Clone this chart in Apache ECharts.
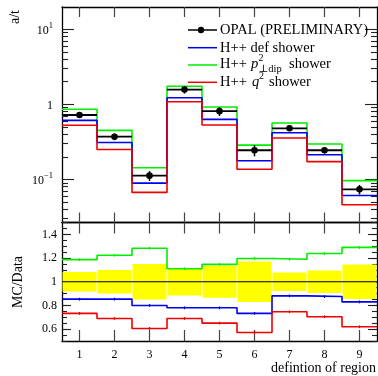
<!DOCTYPE html>
<html>
<head>
<meta charset="utf-8">
<script src="https://cdn.jsdelivr.net/npm/echarts@6/dist/echarts.min.js"></script>
<style>
  html, body { margin: 0; padding: 0; background: #fff; }
  #chart { width: 378px; height: 376px; }
</style>
</head>
<body>
<div id="chart"></div>
<script>
// Region definitions (bin centres) and measured rates a/t
const bins = [1, 2, 3, 4, 5, 6, 7, 8, 9];
const opalData = [0.72, 0.37, 0.112, 1.57, 0.81, 0.244, 0.479, 0.244, 0.0736];
// relative uncertainty of the data (drawn as the yellow band in the ratio)
const relErr = [0.083, 0.10, 0.15, 0.115, 0.136, 0.17, 0.078, 0.094, 0.145];

// Herwig++ predictions
const mcDef = [0.61, 0.31, 0.089, 1.22, 0.63, 0.177, 0.418, 0.213, 0.061];
const mcPt  = [0.86, 0.45, 0.143, 1.74, 0.92, 0.286, 0.563, 0.296, 0.096];
const mcQ2  = [0.525, 0.25, 0.067, 1.08, 0.53, 0.136, 0.356, 0.172, 0.0458];

// MC / Data ratios
const ratioDef = [0.853, 0.853, 0.80, 0.78, 0.78, 0.733, 0.881, 0.875, 0.83];
const ratioPt  = [1.187, 1.224, 1.283, 1.11, 1.147, 1.196, 1.19, 1.238, 1.29];
const ratioQ2  = [0.733, 0.69, 0.606, 0.69, 0.651, 0.572, 0.747, 0.705, 0.62];

// tick values
const xTicks = [1, 2, 3, 4, 5, 6, 7, 8, 9];
const logMajor = [0.1, 1, 10];
const ratioMajor = [0.6, 0.8, 1.0, 1.2, 1.4];

const logMinor = [];
for (let k = -2; k <= 1; k++) {
  for (let m = 2; m <= 9; m++) {
    const v = m * Math.pow(10, k);
    if (v > 0.0266 && v < 19.8) logMinor.push(+v.toPrecision(3));
  }
}

const GREEN = '#00ee00', BLUE = '#0000ee', RED = '#ee0000';
const FONT = '"Liberation Serif", "DejaVu Serif", serif';
const LEG = '14.5px ' + FONT;

// histogram outline: points on bin edges, stepped at the end
function steps(vals) {
  const pts = vals.map((v, i) => [bins[i] - 0.5, v]);
  pts.push([bins[bins.length - 1] + 0.5, vals[vals.length - 1]]);
  return pts;
}

function stepSeries(vals, color, xi, yi) {
  return {
    type: 'line', step: 'end', data: steps(vals), xAxisIndex: xi, yAxisIndex: yi,
    symbol: 'none', lineStyle: { color: color, width: 1.6 }, silent: true, z: 3
  };
}

function xAxisBase(grid, pos, len, labels) {
  return {
    type: 'value', gridIndex: grid, position: pos, min: 0.5, max: 9.5,
    axisLine: { show: true, onZero: false, lineStyle: { color: '#000', width: 1.3 } },
    axisTick: { show: true, inside: true, length: len, customValues: xTicks,
                lineStyle: { color: '#444', width: 1.2 } },
    axisLabel: labels ? { show: true, customValues: xTicks, margin: 8,
                          fontFamily: FONT, fontSize: 12, color: '#000' } : { show: false },
    splitLine: { show: false }
  };
}

function logAxis(pos, major) {
  return {
    type: 'log', logBase: 10, gridIndex: 0, position: pos, min: 0.0266, max: 19.8,
    axisLine: { show: major, onZero: false, lineStyle: { color: '#000', width: 1.3 } },
    axisTick: { show: true, inside: true, length: major ? 12 : 6,
                customValues: major ? logMajor : logMinor,
                lineStyle: { color: '#222', width: 1.1 } },
    axisLabel: (major && pos === 'left') ? {
      show: true, customValues: logMajor, margin: 9, color: '#000',
      formatter: function (v) {
        if (Math.abs(v - 10) < 1e-6) return '{b|10}{s|1}';
        if (Math.abs(v - 0.1) < 1e-6) return '{b|10}{s|\u22121}';
        return '{b|1}';
      },
      rich: {
        b: { fontFamily: FONT, fontSize: 12, color: '#000', verticalAlign: 'bottom', lineHeight: 16 },
        s: { fontFamily: FONT, fontSize: 8.5, color: '#000', verticalAlign: 'top', lineHeight: 16 }
      }
    } : { show: false },
    splitLine: { show: false }
  };
}

function ratioAxis(pos, major) {
  const ax = {
    type: 'value', gridIndex: 1, position: pos, min: 0.5, max: 1.5,
    axisLine: { show: major, onZero: false, lineStyle: { color: '#000', width: 1.3 } },
    axisTick: { show: true, inside: true, length: major ? 9 : 5,
                lineStyle: { color: '#222', width: 1.1 } },
    axisLabel: { show: false },
    splitLine: { show: false }
  };
  if (major) {
    ax.axisTick.customValues = ratioMajor;
    if (pos === 'left') {
      ax.axisLabel = { show: true, customValues: ratioMajor, margin: 5, color: '#000',
                       fontFamily: FONT, fontSize: 12,
                       formatter: v => (Math.abs(v - 1) < 1e-6 ? '1' : v.toFixed(1)) };
    }
  } else {
    ax.interval = 0.05;
  }
  return ax;
}

// OPAL points: full-bin horizontal bar, vertical error, filled dot
const dataItems = bins.map((b, i) => [b, opalData[i], opalData[i] * (1 - relErr[i]), opalData[i] * (1 + relErr[i])]);
const bandItems = bins.map((b, i) => [b, 1 - relErr[i], 1 + relErr[i]]);

function mcErrSeries(vals, color) {
  return {
    type: 'custom', xAxisIndex: 2, yAxisIndex: 4, silent: true, z: 4,
    data: bins.map((b, i) => [b, vals[i]]),
    renderItem: function (params, api) {
      const x = api.value(0), v = api.value(1);
      const a = api.coord([x, v - 0.012]), c = api.coord([x, v + 0.012]);
      return { type: 'line', shape: { x1: a[0], y1: a[1], x2: c[0], y2: c[1] },
               style: { stroke: color, lineWidth: 1.2 } };
    }
  };
}

const option = {
  animation: false,
  backgroundColor: '#fff',
  grid: [
    { left: 62, top: 7, width: 315, height: 215.5 },
    { left: 62, top: 222.5, width: 315, height: 118.5 }
  ],
  xAxis: [
    xAxisBase(0, 'bottom', 10, false),
    xAxisBase(0, 'top', 10, false),
    xAxisBase(1, 'bottom', 11, true),
    xAxisBase(1, 'top', 11, false)
  ],
  yAxis: [
    logAxis('left', true),
    logAxis('left', false),
    logAxis('right', true),
    logAxis('right', false),
    ratioAxis('left', true),
    ratioAxis('left', false),
    ratioAxis('right', true),
    ratioAxis('right', false)
  ],
  series: [
    stepSeries(mcPt, GREEN, 0, 0),
    stepSeries(mcDef, BLUE, 0, 0),
    stepSeries(mcQ2, RED, 0, 0),
    {
      type: 'custom', xAxisIndex: 0, yAxisIndex: 0, silent: true, z: 5,
      data: dataItems,
      renderItem: function (params, api) {
        const x = api.value(0), v = api.value(1);
        const l = api.coord([x - 0.5, v]), r = api.coord([x + 0.5, v]);
        const p = api.coord([x, v]);
        const lo = api.coord([x, api.value(2)]), hi = api.coord([x, api.value(3)]);
        return {
          type: 'group',
          children: [
            { type: 'line', shape: { x1: l[0], y1: l[1], x2: r[0], y2: r[1] },
              style: { stroke: '#000', lineWidth: 1.8 } },
            { type: 'line', shape: { x1: lo[0], y1: lo[1], x2: hi[0], y2: hi[1] },
              style: { stroke: '#000', lineWidth: 1.5 } },
            { type: 'circle', shape: { cx: p[0], cy: p[1], r: 3.3 }, style: { fill: '#000' } }
          ]
        };
      }
    },
    // ratio panel: data uncertainty band
    {
      type: 'custom', xAxisIndex: 2, yAxisIndex: 4, silent: true, z: 1,
      data: bandItems,
      renderItem: function (params, api) {
        const x = api.value(0);
        const a = api.coord([x - 0.5, api.value(2)]);
        const b = api.coord([x + 0.5, api.value(1)]);
        return { type: 'rect', shape: { x: a[0] + 0.5, y: a[1], width: b[0] - a[0] - 1, height: b[1] - a[1] },
                 style: { fill: '#ffff00' } };
      }
    },
    {
      type: 'line', xAxisIndex: 2, yAxisIndex: 4, silent: true, z: 2, symbol: 'none',
      data: [[0.5, 1], [9.5, 1]], lineStyle: { color: '#000', width: 1 }
    },
    stepSeries(ratioPt, GREEN, 2, 4),
    stepSeries(ratioDef, BLUE, 2, 4),
    stepSeries(ratioQ2, RED, 2, 4),
    mcErrSeries(ratioPt, GREEN),
    mcErrSeries(ratioDef, BLUE),
    mcErrSeries(ratioQ2, RED)
  ],
  graphic: [
    // axis titles
    { type: 'text', x: 15, y: 17, rotation: Math.PI / 2,
      style: { text: 'a/t', font: '14px ' + FONT, fill: '#000', align: 'center', verticalAlign: 'middle' } },
    { type: 'text', x: 18, y: 282, rotation: Math.PI / 2,
      style: { text: 'MC/Data', font: '14px ' + FONT, fill: '#000', align: 'center', verticalAlign: 'middle' } },
    { type: 'text', x: 376, y: 368,
      style: { text: 'defintion of region', font: '14px ' + FONT, fill: '#000', align: 'right', verticalAlign: 'middle' } },
    // legend
    { type: 'line', shape: { x1: 188, y1: 30, x2: 217, y2: 30 }, style: { stroke: '#000', lineWidth: 1.5 }, z: 21 },
    { type: 'circle', shape: { cx: 201, cy: 30, r: 3.2 }, style: { fill: '#000' }, z: 21 },
    { type: 'text', x: 220, y: 30, z: 21,
      style: { text: 'OPAL (PRELIMINARY)', font: LEG, fill: '#000', verticalAlign: 'middle' } },
    { type: 'line', shape: { x1: 188, y1: 47.7, x2: 217, y2: 47.7 }, style: { stroke: BLUE, lineWidth: 1.5 }, z: 21 },
    { type: 'text', x: 220, y: 47.7, z: 21,
      style: { text: 'H++ def shower', font: LEG, fill: '#000', verticalAlign: 'middle' } },
    { type: 'line', shape: { x1: 188, y1: 65, x2: 217, y2: 65 }, style: { stroke: GREEN, lineWidth: 1.5 }, z: 21 },
    { type: 'text', x: 220, y: 64, z: 21,
      style: { text: 'H++', font: LEG, fill: '#000', verticalAlign: 'middle' } },
    { type: 'text', x: 251, y: 64, z: 21,
      style: { text: 'p', font: 'italic ' + LEG, fill: '#000', verticalAlign: 'middle' } },
    { type: 'text', x: 258.5, y: 58, z: 21,
      style: { text: '2', font: '10px ' + FONT, fill: '#000', verticalAlign: 'middle' } },
    { type: 'text', x: 258.5, y: 69.5, z: 21,
      style: { text: '\u22A5dip', font: '10.5px ' + FONT, fill: '#000', verticalAlign: 'middle' } },
    { type: 'text', x: 289, y: 64, z: 21,
      style: { text: 'shower', font: LEG, fill: '#000', verticalAlign: 'middle' } },
    { type: 'line', shape: { x1: 188, y1: 82.3, x2: 217, y2: 82.3 }, style: { stroke: RED, lineWidth: 1.5 }, z: 21 },
    { type: 'text', x: 220, y: 82, z: 21,
      style: { text: 'H++', font: LEG, fill: '#000', verticalAlign: 'middle' } },
    { type: 'text', x: 252, y: 82, z: 21,
      style: { text: 'q', font: 'italic ' + LEG, fill: '#000', verticalAlign: 'middle' } },
    { type: 'text', x: 259, y: 76, z: 21,
      style: { text: '2', font: '10px ' + FONT, fill: '#000', verticalAlign: 'middle' } },
    { type: 'text', x: 269, y: 82, z: 21,
      style: { text: 'shower', font: LEG, fill: '#000', verticalAlign: 'middle' } }
  ]
};

const chart = echarts.init(document.getElementById('chart'), null, { renderer: 'canvas' });
chart.setOption(option);
</script>
</body>
</html>
